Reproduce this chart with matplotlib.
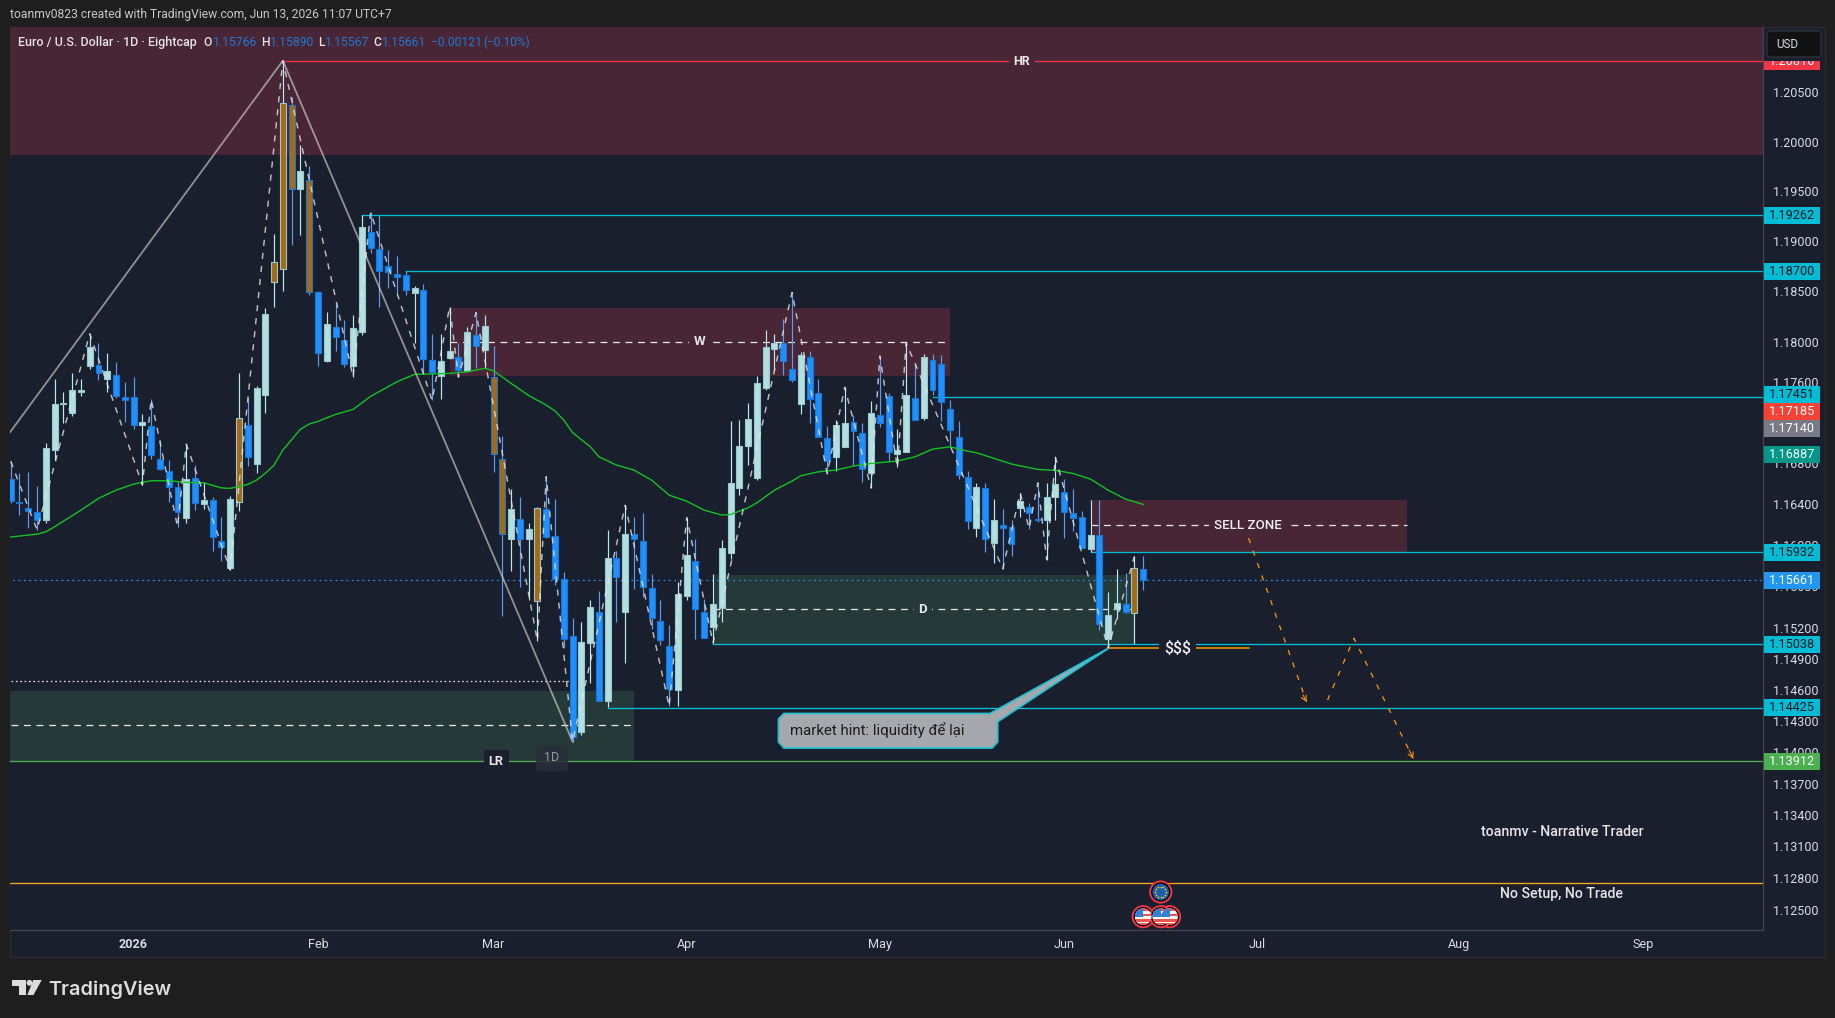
import matplotlib
matplotlib.use('Agg')
import matplotlib.pyplot as plt
from matplotlib.patches import Circle, Polygon, Rectangle, FancyBboxPatch
import numpy as np

plt.rcParams['font.family'] = ['Roboto', 'Noto Sans', 'DejaVu Sans']

######## Data
opens = [1.1665,1.1642,1.1636,1.1632,1.1625,1.1693,1.1738,1.1730,1.1750,1.1776,
         1.1777,1.1763,1.1767,1.1745,1.1745,1.1718,1.1717,1.1684,1.1673,1.1657,
         1.1627,1.1666,1.1640,1.1644,1.1604,1.1578,1.1642,1.1718,1.1679,1.1747,
         1.1859,1.1872,1.2037,1.1952,1.1962,1.1849,1.1781,1.1815,1.1802,1.1776,
         1.1810,1.1909,1.1892,1.1875,1.1867,1.1866,1.1848,1.1851,1.1782,1.1766,
         1.1784,1.1785,1.1771,1.1807,1.1792,1.1765,1.1684,1.1606,1.1626,1.1606,
         1.1546,1.1635,1.1609,1.1567,1.1512,1.1419,1.1505,1.1535,1.1449,1.1588,
         1.1535,1.1611,1.1604,1.1558,1.1526,1.1502,1.1460,1.1551,1.1585,1.1535,
         1.1521,1.1539,1.1592,1.1656,1.1697,1.1666,1.1754,1.1793,1.1799,1.1773,
         1.1738,1.1785,1.1749,1.1705,1.1686,1.1696,1.1721,1.1710,1.1671,1.1728,
         1.1746,1.1689,1.1691,1.1744,1.1725,1.1782,1.1778,1.1734,1.1706,1.1667,
         1.1617,1.1656,1.1602,1.1620,1.1618,1.1636,1.1637,1.1626,1.1625,1.1647,
         1.1652,1.1631,1.1628,1.1596,1.1610,1.1509,1.1538,1.1543,1.1534,1.15766]
highs = [1.1682,1.1671,1.1672,1.1658,1.1700,1.1763,1.1750,1.1769,1.1763,1.1808,
         1.1799,1.1789,1.1780,1.1760,1.1765,1.1729,1.1743,1.1703,1.1683,1.1662,
         1.1699,1.1678,1.1662,1.1647,1.1628,1.1648,1.1769,1.1744,1.1756,1.1834,
         1.1907,1.2082,1.2045,1.1997,1.1976,1.1850,1.1830,1.1838,1.1822,1.1827,
         1.1926,1.1929,1.1926,1.1891,1.1885,1.1870,1.1855,1.1857,1.1808,1.1808,
         1.1835,1.1799,1.1815,1.1829,1.1827,1.1796,1.1707,1.1655,1.1647,1.1622,
         1.1637,1.1667,1.1645,1.1574,1.1529,1.1525,1.1547,1.1555,1.1615,1.1594,
         1.1639,1.1628,1.1631,1.1572,1.1547,1.1522,1.1564,1.1627,1.1606,1.1548,
         1.1572,1.1605,1.1722,1.1723,1.1739,1.1766,1.1812,1.1808,1.1823,1.1849,
         1.1790,1.1791,1.1763,1.1717,1.1723,1.1755,1.1728,1.1720,1.1741,1.1786,
         1.1749,1.1714,1.1799,1.1779,1.1788,1.1788,1.1787,1.1742,1.1722,1.1673,
         1.1661,1.1661,1.1645,1.1635,1.1625,1.1651,1.1641,1.1661,1.1661,1.1686,
         1.1665,1.1655,1.1633,1.1644,1.1644,1.1554,1.1577,1.1573,1.1589,1.15890]
lows = [1.1641,1.1629,1.1617,1.1615,1.1622,1.1683,1.1720,1.1727,1.1746,1.1773,
        1.1762,1.1750,1.1744,1.1721,1.1714,1.1659,1.1684,1.1674,1.1642,1.1618,
        1.1622,1.1634,1.1635,1.1594,1.1585,1.1576,1.1633,1.1677,1.1671,1.1730,
        1.1835,1.1850,1.1896,1.1906,1.1846,1.1776,1.1780,1.1791,1.1775,1.1765,
        1.1807,1.1888,1.1835,1.1853,1.1848,1.1846,1.1799,1.1769,1.1742,1.1743,
        1.1783,1.1765,1.1771,1.1774,1.1774,1.1672,1.1531,1.1575,1.1559,1.1547,
        1.1507,1.1607,1.1561,1.1500,1.1410,1.1416,1.1466,1.1449,1.1443,1.1525,
        1.1486,1.1557,1.1550,1.1519,1.1503,1.1444,1.1444,1.1547,1.1509,1.1510,
        1.1505,1.1525,1.1587,1.1649,1.1678,1.1664,1.1752,1.1772,1.1767,1.1760,
        1.1729,1.1720,1.1706,1.1670,1.1673,1.1696,1.1677,1.1662,1.1656,1.1716,
        1.1682,1.1676,1.1691,1.1723,1.1723,1.1747,1.1722,1.1696,1.1665,1.1616,
        1.1608,1.1593,1.1583,1.1577,1.1589,1.1628,1.1616,1.1623,1.1586,1.1625,
        1.1607,1.1614,1.1597,1.1593,1.1518,1.1500,1.1528,1.1534,1.1504,1.15567]
closes = [1.1643,1.1641,1.1633,1.1625,1.1695,1.1738,1.1739,1.1752,1.1752,1.1795,
          1.1769,1.1771,1.1746,1.1742,1.1718,1.1721,1.1688,1.1675,1.1657,1.1632,
          1.1665,1.1641,1.1644,1.1608,1.1598,1.1645,1.1725,1.1686,1.1754,1.1828,
          1.1879,1.2039,1.1952,1.1971,1.1849,1.1789,1.1818,1.1805,1.1778,1.1814,
          1.1914,1.1893,1.1870,1.1869,1.1864,1.1851,1.1853,1.1783,1.1770,1.1781,
          1.1791,1.1772,1.1810,1.1796,1.1816,1.1689,1.1611,1.1635,1.1606,1.1616,
          1.1636,1.1608,1.1567,1.1509,1.1415,1.1506,1.1540,1.1449,1.1588,1.1569,
          1.1611,1.1606,1.1559,1.1529,1.1508,1.1461,1.1553,1.1590,1.1538,1.1510,
          1.1543,1.1597,1.1661,1.1697,1.1724,1.1759,1.1795,1.1799,1.1781,1.1762,
          1.1787,1.1743,1.1706,1.1682,1.1718,1.1720,1.1712,1.1675,1.1730,1.1720,
          1.1691,1.1693,1.1747,1.1723,1.1785,1.1752,1.1740,1.1713,1.1669,1.1624,
          1.1657,1.1606,1.1625,1.1617,1.1601,1.1643,1.1631,1.1625,1.1647,1.1660,
          1.1632,1.1627,1.1597,1.1610,1.1523,1.1532,1.1544,1.1535,1.1578,1.15661]
orangeBars = [26, 30, 31, 32, 34, 55, 56, 60, 128]

maBars = [0,3,4,5,8,10,12,14,16,18,20,22,24,25,27,28,29,30,31,33,34,35,37,39,41,44,46,50,52,54,55,
          57,59,61,62,63,64,66,67,69,71,73,75,77,79,81,82,84,85,87,89,90,92,94,96,98,101,103,105,
          107,109,110,114,117,119,121,123,125,127,129]
maValues = [1.1608,1.16108,1.1613,1.1618,1.16342,1.16457,1.16538,1.16597,1.1663,1.1663,1.16614,
            1.1661,1.1656,1.16555,1.16594,1.16636,1.16702,1.16784,1.16931,1.17135,1.17187,1.17213,
            1.17282,1.17331,1.1746,1.17604,1.17677,1.17687,1.17703,1.17737,1.17713,1.17588,1.17468,
            1.17374,1.17315,1.17226,1.17103,1.16965,1.16865,1.16784,1.16735,1.16636,1.16489,1.1643,
            1.16342,1.16294,1.163,1.16365,1.16414,1.16538,1.16627,1.16679,1.16718,1.16735,1.16774,
            1.168,1.16823,1.16865,1.1694,1.16963,1.16921,1.16905,1.16794,1.16741,1.16732,1.16702,
            1.16646,1.16538,1.1645,1.16398]

zigBars = [0,3,9,15,16,19,20,25,31,39,41,48,50,51,53,60,61,64,70,75,77,80,89,93,95,98,99,101,102,
           113,115,116,117,118,119,125,128]
zigSides = 'HLHLHLHLHLHLHLHLHLHLHLHLHLHLHLHLHLHLH'

swingBars = [-2, 31, 64]
swingPrices = [1.1688, 1.2082, 1.1410]

# Level lines: price, first bar, colour
levelPrices = [1.20816, 1.19262, 1.18700, 1.17451, 1.15932, 1.15038, 1.14425, 1.13912, 1.12750]
levelStarts = [31, 40, 45, 105, 123, 80, 68, -1, -1]
levelColors = ['#f23645', '#00bcd4', '#00bcd4', '#00bcd4', '#00bcd4', '#00bcd4', '#00bcd4', '#4caf50', '#f5a623']

tickPrices = [1.205,1.2,1.195,1.19,1.185,1.18,1.176,1.168,1.164,1.16,1.156,1.152,1.149,1.146,1.143,
              1.14,1.137,1.134,1.131,1.128,1.125]
tagPrices = [1.20816,1.19262,1.18700,1.17451,1.17185,1.17140,1.16887,1.15932,1.15661,1.15038,1.14425,1.13912]
tagColors = ['#f23645','#00bcd4','#00bcd4','#00bcd4','#f44336','#787b86','#009688','#00bcd4','#2196f3',
             '#00bcd4','#00bcd4','#4caf50']
tagTextColors = ['#ffffff','#131722','#131722','#131722','#ffffff','#ffffff','#ffffff','#131722','#ffffff',
                 '#131722','#131722','#ffffff']
tagShifts = [0,0,0,-2.5,-12.5,0,0,0,0,0,0,0]

monthBars = [14, 35, 55, 77, 99, 120, 142, 165, 186]
monthLabels = ['2026', 'Feb', 'Mar', 'Apr', 'May', 'Jun', 'Jul', 'Aug', 'Sep']

usEventBars = [132, 129, 131]
euEventBars = [131]

PANEL = '#1a1f2e'
OUTER = '#1e1e1e'
REDZONE = '#482636'
GREENZONE = '#253a38'
TEXT = '#d8dbe2'
PRICE_TOP = 1.21163
PRICE_BOTTOM = 1.12309
W, H = 1835, 1018


def pixelAxes(fig, zorder):
    a = fig.add_axes([0, 0, 1, 1], zorder=zorder)
    a.set_xlim(0, W)
    a.set_ylim(H, 0)
    a.axis('off')
    a.patch.set_alpha(0)
    return a


def pxRect(a, x0, y0, x1, y1, **kw):
    a.add_patch(Rectangle((x0, y0), x1 - x0, y1 - y0, **kw))


def zone(ax, x0, x1, p0, p1, color):
    ax.fill_between([x0, x1], p0, p1, color=color, lw=0, zorder=1)


def dashed(ax, x0, x1, p, color='#e8e8e8'):
    ax.plot([x0, x1], [p, p], color=color, lw=0.9, dashes=(5.5, 4.5), zorder=2)


def zoneLabel(ax, x, p, s, bg, size=9.6, color='#e6e6e6', weight='bold'):
    ax.text(x, p, s, color=color, fontsize=size, ha='center', va='center', zorder=3.5, fontweight=weight,
            bbox=dict(fc=bg, ec='none', pad=3.5))


def drawCandles(ax):
    for i in range(len(opens)):
        up = closes[i] >= opens[i]
        wick = '#b2ebf2' if up else '#5b9cf6'
        ax.plot([i, i], [lows[i], highs[i]], color=wick, lw=0.85, zorder=4, solid_capstyle='butt')
        fill = '#b2dfe2' if up else '#1e90ff'
        edge = '#98c8cc' if up else '#1976d2'
        if i in orangeBars:
            fill = '#a56a14'
        low = min(opens[i], closes[i])
        ax.bar(i, abs(closes[i] - opens[i]), bottom=low, width=0.68, color=fill, edgecolor=edge, lw=0.8, zorder=4.2)


def drawFlag(a, x, y, kind):
    a.add_patch(Circle((x, y), 10.6, fc='#000000', ec='#f23645', lw=1.4, zorder=6))
    if kind == 'eu':
        a.add_patch(Circle((x, y), 8.3, fc='#1b5fab', ec='none', zorder=6.1))
        ang = np.arange(0, 360, 30) * np.pi / 180
        a.scatter(x + 5.3 * np.cos(ang), y + 5.3 * np.sin(ang), s=1.6, color='#f2c230', lw=0, zorder=6.2)
    else:
        base = Circle((x, y), 8.3, fc='#ffffff', ec='none', zorder=6.1)
        a.add_patch(base)
        for k, dy in enumerate([-8.5, -3.2, 2.1, 6.4]):
            r = Rectangle((x - 9, y + dy), 18, 2.8, fc='#ef5350', ec='none', zorder=6.2)
            a.add_patch(r)
            r.set_clip_path(base)
        r = Rectangle((x - 9, y - 9), 9, 9, fc='#2f81e0', ec='none', zorder=6.3)
        a.add_patch(r)
        r.set_clip_path(base)


fig = plt.figure(figsize=(W / 100, H / 100), dpi=100, facecolor=OUTER)

bg = pixelAxes(fig, 0)
pxRect(bg, 9.5, 27, 1825, 957, fc=PANEL, ec='#2b2d33', lw=1)

ax = fig.add_axes([10 / W, 1 - 930 / H, (1763 - 10) / W, (930 - 27) / H], zorder=1)
ax.set_facecolor(PANEL)
ax.set_yscale('log')
ax.set_xlim(-0.08, 199.6)
ax.set_ylim(PRICE_BOTTOM, PRICE_TOP)
for side in ['top', 'left']:
    ax.spines[side].set_visible(False)
for side in ['right', 'bottom']:
    ax.spines[side].set_color('#434651')
    ax.spines[side].set_linewidth(0.9)

ax.yaxis.tick_right()
ax.set_yticks(tickPrices)
ax.set_yticklabels(['%.5f' % p for p in tickPrices])
ax.minorticks_off()
ax.tick_params(axis='y', length=0, pad=7, labelsize=9.0, labelcolor=TEXT)
ax.set_xticks(monthBars)
ax.set_xticklabels(monthLabels)
ax.tick_params(axis='x', length=0, pad=6, labelsize=9.1, labelcolor=TEXT)
ax.get_xticklabels()[0].set_fontweight('bold')

######## Zones
zone(ax, -1, 200, 1.19866, 1.2300, REDZONE)
zone(ax, 50, 107, 1.17661, 1.18335, REDZONE)
zone(ax, 123, 159, 1.15932, 1.1644, REDZONE)
zone(ax, 80, 128, 1.15038, 1.1571, GREENZONE)
zone(ax, -1, 71, 1.13912, 1.14587, GREENZONE)

dashed(ax, 50, 107, 1.1800)
dashed(ax, 123, 159, 1.16193)
dashed(ax, 80, 128, 1.15377)
dashed(ax, 0, 71, 1.14257)
ax.plot([0, 63.6], [1.14679, 1.14679], color='#e8e8e8', lw=0.9, dashes=(1.3, 2.2), zorder=2)
ax.plot([-1, 200], [closes[-1], closes[-1]], color='#2196f3', lw=0.9, dashes=(1.3, 3), zorder=2)

for p, s, c in zip(levelPrices, levelStarts, levelColors):
    ax.plot([s, 200], [p, p], color=c, lw=0.95, zorder=2.2)
ax.plot([125, 141], [1.1500, 1.1500], color='#ff9800', lw=1.1, zorder=2.2)

######## Candles and overlays
drawCandles(ax)
ax.plot(maBars, maValues, color='#13c222', lw=1.0, zorder=4.5)
ax.plot(swingBars, swingPrices, color='#d8d8d8', alpha=0.62, lw=1.3, zorder=4.6)
zigPrices = [highs[b] if s == 'H' else lows[b] for b, s in zip(zigBars, zigSides)]
ax.plot(zigBars, zigPrices, color='#e6e6e6', alpha=0.8, lw=1.05, dashes=(4.2, 4.8), zorder=4.7)

# Projected path after the sell zone
pathColor = '#f5930a'
ax.plot([141, 147.6], [1.16069, 1.14484], color=pathColor, lw=0.95, dashes=(4, 6), zorder=3)
ax.plot([150, 153, 159.75], [1.1450, 1.15096, 1.1394], color=pathColor, lw=0.95, dashes=(4, 6), zorder=3)
ax.annotate('', xy=(147.6, 1.14484), xytext=(147.2, 1.1455), zorder=3,
            arrowprops=dict(arrowstyle='->,head_length=0.35,head_width=0.2', color=pathColor, lw=0.8, shrinkA=0, shrinkB=0))
ax.annotate('', xy=(159.75, 1.1394), xytext=(159.3, 1.1402), zorder=3,
            arrowprops=dict(arrowstyle='->,head_length=0.35,head_width=0.2', color=pathColor, lw=0.8, shrinkA=0, shrinkB=0))

######## Labels on the chart
zoneLabel(ax, 115.2, 1.20816, 'HR', REDZONE, 9.0)
zoneLabel(ax, 78.5, 1.1800, 'W', REDZONE, 9.6)
zoneLabel(ax, 140.9, 1.16193, 'SELL ZONE', REDZONE, 9.6, '#f0f0f0', 'medium')
zoneLabel(ax, 103.9, 1.15377, 'D', GREENZONE, 9.6)
zoneLabel(ax, 55.3, 1.13912, 'LR', PANEL, 9.2)
zoneLabel(ax, 132.9, 1.14995, '$$$', PANEL, 11.4, '#f0f0f0', 'medium')
ax.text(176.7, 1.13235, 'toanmv - Narrative Trader', color='#e6e6e6', fontsize=10.2, ha='center', va='center', zorder=3, fontweight='medium')
ax.text(176.7, 1.12650, 'No Setup, No Trade', color='#e6e6e6', fontsize=10.2, ha='center', va='center', zorder=3, fontweight='medium')

######## Fixed chrome in pixel coordinates
ov = pixelAxes(fig, 5)

ov.add_patch(FancyBboxPatch((538, 748), 28, 21, boxstyle='round,pad=2,rounding_size=4', fc='#2a2e39', ec='none', alpha=0.85, zorder=3))
ov.text(551.5, 757.5, '1D', color='#9598a1', fontsize=9, ha='center', va='center', zorder=3.1)

# Callout pointing at the swing low
tipX = ax.transData.transform((125, 1.1500))[0]
calloutOutline = [(784, 713.5), (990, 713.5), (tipX, 648.5), (997.7, 721.7), (997.7, 742), (992, 748),
                  (784, 748), (778.5, 742), (778.5, 719)]
ov.add_patch(Polygon(calloutOutline, closed=True, fc='#a6a8ad', ec='#26c0d3', lw=1.3, joinstyle='round', zorder=3))
ov.text(789.5, 730, 'market hint: liquidity để lại', color='#1c1c1c', fontsize=10.8, ha='left', va='center', zorder=3.1)

# Price tags on the scale
for p, c, tc, shift in zip(tagPrices, tagColors, tagTextColors, tagShifts):
    y = H - ax.transData.transform((0, p))[1] + shift
    pxRect(ov, 1763.5, y - 8.5, 1820, y + 8.5, fc=c, ec='none', zorder=4)
    ov.text(1792, y, '%.5f' % p, color=tc, fontsize=9.1, ha='center', va='center', zorder=4.1)

# Currency button sits on a strip of scale background that cuts off tags beneath it
pxRect(ov, 1763.5, 27.5, 1824.5, 60.5, fc=PANEL, ec='none', zorder=4.5)
ov.add_patch(FancyBboxPatch((1769, 33), 50, 22, boxstyle='round,pad=2,rounding_size=3', fc='#121212', ec='#2f3136', lw=1, zorder=5))
ov.text(1776.5, 44.5, 'USD', color=TEXT, fontsize=8.4, ha='left', va='center', zorder=5.1)

# Header and legend strip
ov.text(10, 14.5, 'toanmv0823 created with TradingView.com, Jun 13, 2026 11:07 UTC+7', color='#c8c8c8', fontsize=8.75, ha='left', va='center')
ov.text(17.8, 42, 'Euro / U.S. Dollar · 1D · Eightcap', color='#e4e4e4', fontsize=9.0, ha='left', va='center', fontweight='medium')
legendKeys = ['O', 'H', 'L', 'C']
legendKeyX = [203.6, 261, 318.3, 373.7]
legendValX = [212.7, 269.7, 325, 382]
legendVals = [opens[-1], highs[-1], lows[-1], closes[-1]]
for k, kx, vx, v in zip(legendKeys, legendKeyX, legendValX, legendVals):
    ov.text(kx, 42, k, color='#e4e4e4', fontsize=8.7, ha='left', va='center', fontweight='medium')
    ov.text(vx, 42, '%.5f' % v, color='#1f78d1', fontsize=8.7, ha='left', va='center')
ov.text(431, 42, '−0.00121', color='#1f78d1', fontsize=8.7, ha='left', va='center')
ov.text(483.2, 42, '(−0.10%)', color='#1f78d1', fontsize=8.6, ha='left', va='center')

# Economic event flags
for b in usEventBars:
    drawFlag(ov, ax.transData.transform((b, 1.15))[0], 916.7, 'us')
for b in euEventBars:
    drawFlag(ov, ax.transData.transform((b, 1.15))[0], 892, 'eu')

# Logo
logoColor = '#dcdcdc'
ov.add_patch(Polygon([(12, 980), (26, 980), (26, 995), (19, 995), (19, 985.7), (12, 985.7)], closed=True, fc=logoColor, ec='none'))
ov.add_patch(Circle((29.5, 982.8), 2.9, fc=logoColor, ec='none'))
ov.add_patch(Polygon([(33.3, 980), (41.7, 980), (33.5, 995), (27.3, 995)], closed=True, fc=logoColor, ec='none'))
ov.text(48.5, 995, 'TradingView', color=logoColor, fontsize=14.3, family=['Inter', 'DejaVu Sans'], fontweight='semibold', ha='left', va='baseline')

fig.savefig('out.png', dpi=100, facecolor=OUTER)
